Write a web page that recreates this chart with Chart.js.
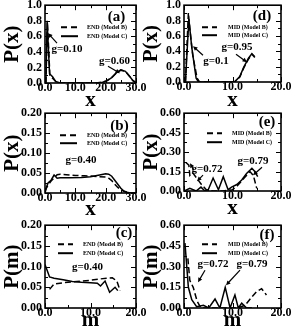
<!DOCTYPE html>
<html>
<head>
<meta charset="utf-8">
<script src="https://cdn.jsdelivr.net/npm/chart.js@4.4.1/dist/chart.umd.min.js"></script>
<style>
  html, body { margin: 0; padding: 0; background: #fff; }
  body { width: 297px; height: 334px; position: relative; overflow: hidden; }
  canvas { position: absolute; }
</style>
</head>
<body>
<script>
// --- data (x values, then P values) ---
// (a) END, g=0.10 / g=0.60
const aBx = [0.3, 0.8, 1.0, 1.6, 2.5, 3.8, 5, 10, 15, 17.5, 19, 20.5, 22, 23.5, 25, 26.5, 28, 29, 30];
const aBy = [0, 0.78, 0.62, 0.10, 0.06, 0.01, 0, 0, 0, 0.002, 0.01, 0.03, 0.07, 0.13, 0.165, 0.15, 0.08, 0.03, 0.005];
const aCx = [0.3, 0.7, 1.5, 2.5, 3.5, 5, 10, 15, 17.5, 19, 20.5, 22, 23.5, 25, 26.5, 28, 29, 30];
const aCy = [0, 0.80, 0.12, 0.08, 0.02, 0, 0, 0, 0.002, 0.01, 0.03, 0.07, 0.13, 0.17, 0.15, 0.08, 0.03, 0.005];

// (b) END, g=0.40
const bBx = [0, 1, 2, 3, 4, 5, 7, 10, 13, 16, 18, 20, 21, 22, 23, 24, 25, 26, 27, 28, 30];
const bBy = [0.005, 0.02, 0.03, 0.038, 0.046, 0.047, 0.046, 0.044, 0.043, 0.042, 0.041, 0.040, 0.037, 0.031, 0.022, 0.014, 0.008, 0.004, 0.002, 0, 0];
const bCx = [0, 0.5, 1, 2, 3, 4, 5, 8, 12, 15, 18, 20, 21, 22, 23, 24, 25, 26, 27, 28, 30];
const bCy = [0, 0.015, 0.025, 0.032, 0.045, 0.037, 0.038, 0.038, 0.039, 0.041, 0.045, 0.048, 0.047, 0.042, 0.032, 0.022, 0.012, 0.005, 0.002, 0, 0];

// (c) END, g=0.40, P(m)
const cBx = [1, 2, 4, 6, 8, 10, 12, 13.5, 14.8, 15.8, 16.5];
const cBy = [0.045, 0.058, 0.061, 0.063, 0.065, 0.067, 0.070, 0.072, 0.073, 0.065, 0.042];
const cCx = [0, 1, 2, 4, 6, 8, 10, 11.5, 12.2, 13.2, 14.2, 15.4, 16];
const cCy = [0.105, 0.075, 0.072, 0.068, 0.064, 0.062, 0.061, 0.060, 0.053, 0.065, 0.038, 0.050, 0.042];

// (d) MID, g=0.1 / g=0.95
const dBx = [0.3, 0.9, 1.2, 1.8, 2.7, 3.2, 6, 9, 10.5, 11.5, 12.3, 13.3, 14, 14.6];
const dBy = [0, 0.90, 0.70, 0.35, 0.05, 0, 0, 0, 0.005, 0.065, 0.18, 0.30, 0.36, 0.32];
const dCx = [0.3, 1.0, 1.6, 2.5, 3, 6, 9, 10.5, 11.5, 12.3, 13.3, 14, 14.6];
const dCy = [0, 0.82, 0.45, 0.05, 0, 0, 0, 0.005, 0.07, 0.19, 0.31, 0.37, 0.33];

// (e) MID, g=0.72 / g=0.79
const eBx = [0.4, 1.0, 1.2, 1.8, 2.6, 3.6, 4.6, 6, 8, 10, 11, 12.4, 13.6, 14.3, 15];
const eBy = [0.22, 0.20, 0.12, 0.14, 0.10, 0.05, 0.01, 0, 0, 0.01, 0.04, 0.10, 0.15, 0.12, 0.02];
const eCx = [0, 1.2, 2.5, 3.5, 4.3, 5, 6, 7.1, 8.1, 9.1, 9.8, 10.9, 11.9, 12.9, 14, 14.6, 15.2];
const eCy = [0, 0.02, 0, 0.03, 0, 0.01, 0.10, 0.01, 0.11, 0.01, 0.03, 0.05, 0.085, 0.135, 0.175, 0.15, 0.11];

// (f) MID, g=0.72 / g=0.79, P(m)
const fBx = [0.8, 1.2, 1.9, 2.7, 3.5, 6, 9, 11, 12.6, 14, 15, 16, 17];
const fBy = [0.36, 0.20, 0.15, 0.05, 0, 0, 0, 0, 0.02, 0.08, 0.12, 0.14, 0.094];
const fCx = [0.2, 0.9, 1.6, 2.6, 4, 5.1, 6.4, 7.4, 8.5, 9.5, 10.5, 11.2, 11.9, 12.9, 14];
const fCy = [0.47, 0.15, 0.06, 0.01, 0.02, 0, 0.065, 0, 0.15, 0, 0.095, 0, 0.035, 0, 0];

const endNames = ['END (Model B)', 'END (Model C)'];
const midNames = ['MID (Model B)', 'MID (Model C)'];

const SERIF = "'Liberation Serif', 'Times New Roman', serif";

function pts(xs, ys) {
  return xs.map((x, i) => ({ x: x, y: ys[i] }));
}

// frame + inward major/minor ticks on all four sides
const framePlugin = {
  id: 'frame',
  afterDatasetsDraw(chart) {
    const { ctx, chartArea: a, scales } = chart;
    ctx.save();
    ctx.strokeStyle = '#000';
    ctx.lineWidth = 1.6;
    ctx.strokeRect(a.left, a.top, a.right - a.left, a.bottom - a.top);
    ctx.lineWidth = 1;
    ctx.beginPath();
    const marks = (scale) => {
      const v = scale.ticks.map(t => t.value);
      const out = v.map(val => [val, 5]);
      for (let i = 0; i < v.length - 1; i++) out.push([(v[i] + v[i + 1]) / 2, 3]);
      return out;
    };
    marks(scales.x).forEach(([v, len]) => {
      const px = Math.round(scales.x.getPixelForValue(v)) + 0.5;
      ctx.moveTo(px, a.bottom); ctx.lineTo(px, a.bottom - len);
      ctx.moveTo(px, a.top); ctx.lineTo(px, a.top + len);
    });
    marks(scales.y).forEach(([v, len]) => {
      const py = Math.round(scales.y.getPixelForValue(v)) + 0.5;
      ctx.moveTo(a.left, py); ctx.lineTo(a.left + len, py);
      ctx.moveTo(a.right, py); ctx.lineTo(a.right - len, py);
    });
    ctx.stroke();
    ctx.restore();
  }
};

// panel tag, legend, g labels and arrows (positions relative to chart area)
const notesPlugin = {
  id: 'notes',
  afterDraw(chart, args, o) {
    const { ctx, chartArea: a } = chart;
    const X = a.left, Y = a.top;
    ctx.save();
    ctx.fillStyle = '#000';
    ctx.strokeStyle = '#000';
    ctx.textAlign = 'center';
    ctx.textBaseline = 'middle';
    ctx.font = 'bold 15px ' + SERIF;
    ctx.fillText(o.tag, X + o.tagAt[0], Y + o.tagAt[1]);

    // legend
    const lg = o.leg;
    ctx.font = 'bold 6px ' + SERIF;
    ctx.textAlign = 'left';
    o.names.forEach((name, i) => {
      const yy = Y + lg.rows[i];
      ctx.lineWidth = 2;
      ctx.setLineDash(i === 0 ? [6, 4] : []);
      ctx.beginPath();
      ctx.moveTo(X + lg.x0, yy); ctx.lineTo(X + lg.x1, yy);
      ctx.stroke();
      ctx.setLineDash([]);
      ctx.fillText(name, X + lg.tx, yy + 0.5);
    });

    // g labels
    ctx.font = 'bold 11px ' + SERIF;
    ctx.textAlign = 'center';
    o.labels.forEach(l => ctx.fillText(l.text, X + l.at[0], Y + l.at[1]));

    // arrows
    ctx.lineWidth = 1.2;
    o.arrows.forEach(([x1, y1, x2, y2]) => {
      const ax = X + x2, ay = Y + y2;
      const ang = Math.atan2(y2 - y1, x2 - x1);
      ctx.beginPath();
      ctx.moveTo(X + x1, Y + y1);
      ctx.lineTo(ax - Math.cos(ang) * 3, ay - Math.sin(ang) * 3);
      ctx.stroke();
      ctx.beginPath();
      ctx.moveTo(ax, ay);
      ctx.lineTo(ax - 5 * Math.cos(ang - 0.45), ay - 5 * Math.sin(ang - 0.45));
      ctx.lineTo(ax - 5 * Math.cos(ang + 0.45), ay - 5 * Math.sin(ang + 0.45));
      ctx.closePath();
      ctx.fill();
    });
    ctx.restore();
  }
};

function panel(p) {
  const [L, T, R, B] = p.box;
  const cLeft = Math.round(p.yTitleX - 10.5);
  const cTop = T - 10;
  const cRight = R + 14;
  const cBottom = Math.round(p.xTitleY + 10);
  const cv = document.createElement('canvas');
  cv.width = cRight - cLeft;
  cv.height = cBottom - cTop;
  cv.style.left = cLeft + 'px';
  cv.style.top = cTop + 'px';
  document.body.appendChild(cv);

  const tickFont = { family: SERIF, size: 12, weight: 'bold' };
  const titleFont = { family: SERIF, size: 21, weight: 'bold', lineHeight: 1 };
  const line = (data, dash) => ({
    data: data,
    borderColor: '#000',
    borderWidth: 1.5,
    borderDash: dash,
    pointRadius: 0,
    tension: 0,
    fill: false
  });

  new Chart(cv, {
    type: 'line',
    data: {
      datasets: [
        line(pts(p.bx, p.by), [6, 3]),
        line(pts(p.cx, p.cy), [])
      ]
    },
    options: {
      responsive: false,
      animation: false,
      devicePixelRatio: 1,
      layout: { padding: { left: 0, top: 10, right: 14, bottom: 0 } },
      plugins: {
        legend: { display: false },
        tooltip: { enabled: false },
        notes: p.notes
      },
      scales: {
        x: {
          type: 'linear',
          min: 0, max: p.xMax,
          grid: { display: false, drawTicks: false },
          border: { display: false },
          ticks: {
            stepSize: 10, autoSkip: false, maxRotation: 0, padding: -2,
            color: '#000', font: tickFont,
            callback: v => v.toFixed(1)
          },
          title: { display: true, text: p.xTitle, color: '#000', font: titleFont, padding: 0 },
          afterFit: s => { s.height = cBottom - B; }
        },
        y: {
          min: 0, max: p.yMax,
          grid: { display: false, drawTicks: false },
          border: { display: false },
          ticks: {
            stepSize: p.yStep, autoSkip: false, padding: 3,
            color: '#000', font: tickFont,
            callback: v => v.toFixed(p.yDec)
          },
          title: { display: true, text: p.yTitle, color: '#000', font: titleFont, padding: 0 },
          afterFit: s => { s.width = L - cLeft; }
        }
      }
    },
    plugins: [framePlugin, notesPlugin]
  });
}

panel({
  box: [45, 5, 136, 83], yTitleX: 12, xTitleY: 101,
  xMax: 30, yMax: 1, yStep: 0.2, yDec: 1, xTitle: 'x', yTitle: 'P(x)',
  bx: aBx, by: aBy, cx: aCx, cy: aCy,
  notes: {
    tag: '(a)', tagAt: [71.5, 12], names: endNames,
    leg: { x0: 16, x1: 33, tx: 42, rows: [22, 31] },
    labels: [{ text: 'g=0.10', at: [22, 44] }, { text: 'g=0.60', at: [69.5, 56] }],
    arrows: [[12, 38, 3, 28], [63, 61, 75, 68]]
  }
});

panel({
  box: [184, 5, 281, 82], yTitleX: 151, xTitleY: 101,
  xMax: 20, yMax: 1, yStep: 0.2, yDec: 1, xTitle: 'x', yTitle: 'P(x)',
  bx: dBx, by: dBy, cx: dCx, cy: dCy,
  notes: {
    tag: '(d)', tagAt: [78, 11], names: midNames,
    leg: { x0: 18, x1: 33, tx: 44, rows: [22, 30] },
    labels: [{ text: 'g=0.1', at: [32, 56] }, { text: 'g=0.95', at: [53, 42] }],
    arrows: [[19, 50, 9, 41], [52, 49, 63, 57]]
  }
});

panel({
  box: [45, 113, 136, 193], yTitleX: 12, xTitleY: 210,
  xMax: 30, yMax: 0.2, yStep: 0.05, yDec: 2, xTitle: 'x', yTitle: 'P(x)',
  bx: bBx, by: bBy, cx: bCx, cy: bCy,
  notes: {
    tag: '(b)', tagAt: [74.5, 13], names: endNames,
    leg: { x0: 15, x1: 32, tx: 42, rows: [22, 30] },
    labels: [{ text: 'g=0.40', at: [36, 47] }],
    arrows: []
  }
});

panel({
  box: [184, 113, 281, 191], yTitleX: 151, xTitleY: 209,
  xMax: 20, yMax: 0.6, yStep: 0.15, yDec: 2, xTitle: 'x', yTitle: 'P(x)',
  bx: eBx, by: eBy, cx: eCx, cy: eCy,
  notes: {
    tag: '(e)', tagAt: [83, 9], names: midNames,
    leg: { x0: 23, x1: 38, tx: 48, rows: [20, 29] },
    labels: [{ text: 'g=0.72', at: [23, 56] }, { text: 'g=0.79', at: [69, 48] }],
    arrows: [[10, 57, 6, 50], [19, 62, 13, 68], [78, 54, 69, 62]]
  }
});

panel({
  box: [45, 225, 136, 308], yTitleX: 12, xTitleY: 321,
  xMax: 20, yMax: 0.2, yStep: 0.05, yDec: 2, xTitle: 'm', yTitle: 'P(m)',
  bx: cBx, by: cBy, cx: cCx, cy: cCy,
  notes: {
    tag: '(c)', tagAt: [79, 8], names: endNames,
    leg: { x0: 13, x1: 28, tx: 38, rows: [19, 28] },
    labels: [{ text: 'g=0.40', at: [42.5, 42] }],
    arrows: []
  }
});

panel({
  box: [184, 225, 281, 308], yTitleX: 151, xTitleY: 321,
  xMax: 20, yMax: 0.6, yStep: 0.15, yDec: 2, xTitle: 'm', yTitle: 'P(m)',
  bx: fBx, by: fBy, cx: fCx, cy: fCy,
  notes: {
    tag: '(f)', tagAt: [83, 10], names: midNames,
    leg: { x0: 18, x1: 33, tx: 44, rows: [19, 28] },
    labels: [{ text: 'g=0.72', at: [29, 39] }, { text: 'g=0.79', at: [68, 39] }],
    arrows: [[21, 45, 14, 57], [56, 45, 42, 60]]
  }
});
</script>
</body>
</html>
